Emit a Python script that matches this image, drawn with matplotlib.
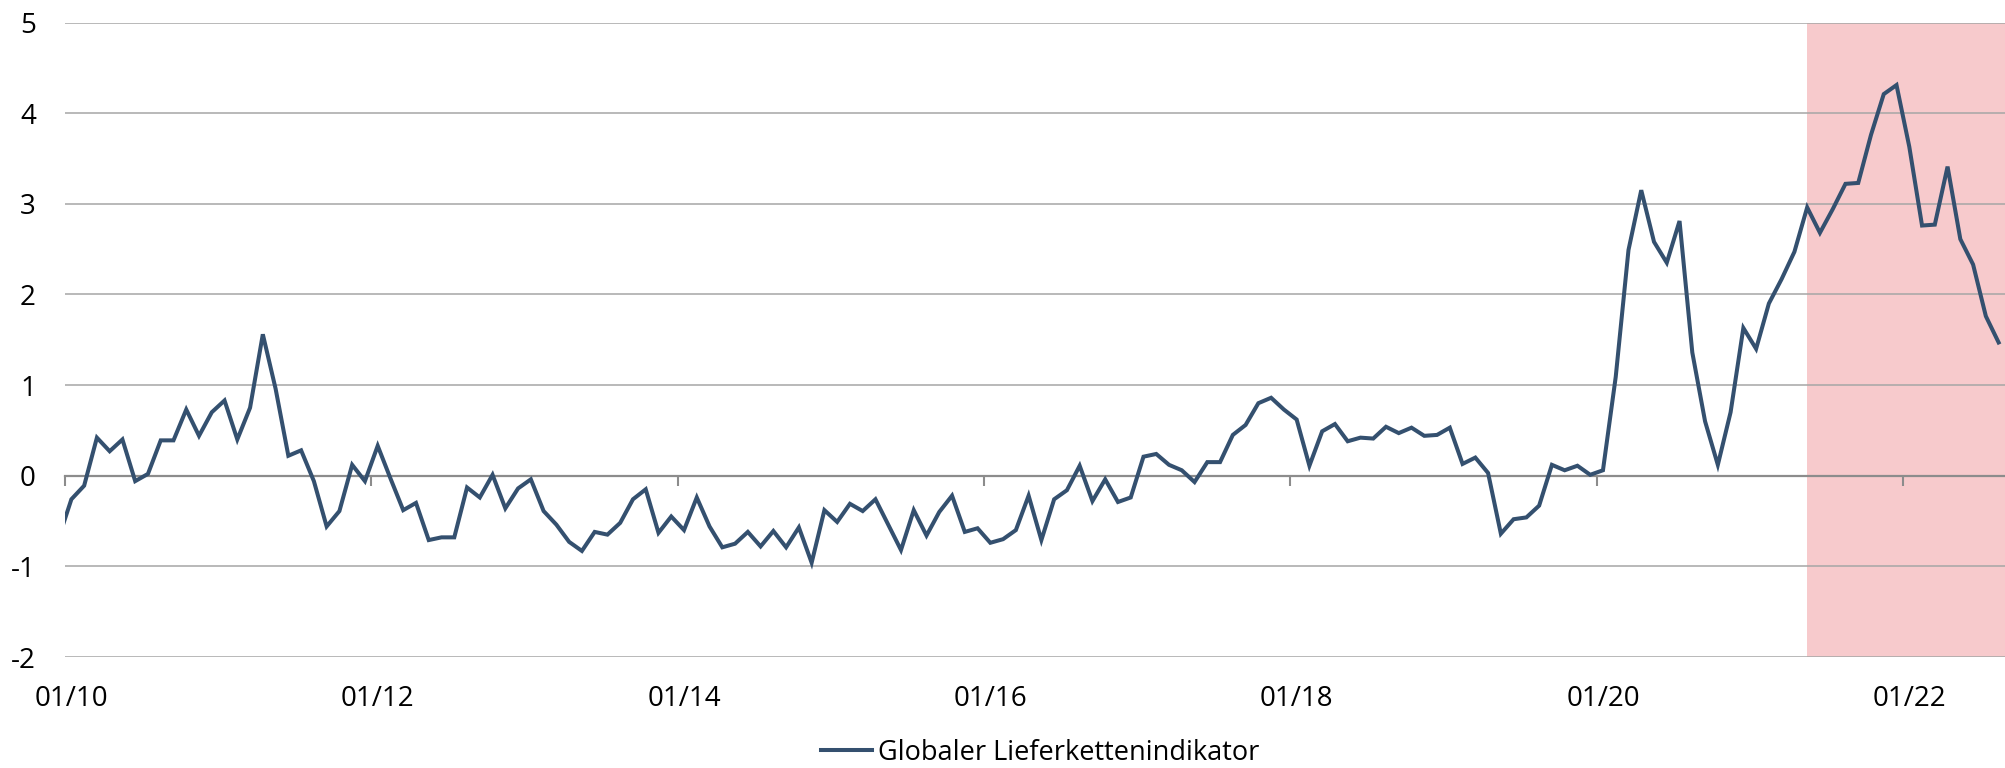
import numpy as np
import pandas as pd
import matplotlib
matplotlib.use('Agg')
import matplotlib.pyplot as plt
from matplotlib.lines import Line2D

# Globaler Lieferkettenindikator, Monatswerte 12/2009 - 08/2022
months = pd.period_range('2009-12', '2022-08', freq='M')
values = [
    -0.69,                                                                         # 2009-12
    -0.26, -0.11, 0.42, 0.27, 0.40, -0.06, 0.02, 0.39, 0.39, 0.73, 0.44, 0.70,     # 2010
    0.83, 0.40, 0.75, 1.56, 0.96, 0.22, 0.28, -0.06, -0.56, -0.39, 0.12, -0.06,    # 2011
    0.33, -0.03, -0.38, -0.30, -0.71, -0.68, -0.68, -0.13, -0.24, 0.01, -0.36, -0.14,  # 2012
    -0.04, -0.39, -0.54, -0.73, -0.83, -0.62, -0.65, -0.52, -0.26, -0.15, -0.63, -0.45,  # 2013
    -0.60, -0.24, -0.56, -0.79, -0.75, -0.62, -0.78, -0.61, -0.79, -0.57, -0.96, -0.38,  # 2014
    -0.51, -0.31, -0.39, -0.26, -0.54, -0.82, -0.38, -0.66, -0.40, -0.22, -0.62, -0.58,  # 2015
    -0.74, -0.70, -0.60, -0.22, -0.71, -0.26, -0.16, 0.11, -0.28, -0.04, -0.29, -0.24,   # 2016
    0.21, 0.24, 0.12, 0.06, -0.07, 0.15, 0.15, 0.45, 0.56, 0.80, 0.86, 0.73,       # 2017
    0.62, 0.11, 0.49, 0.57, 0.38, 0.42, 0.41, 0.54, 0.47, 0.53, 0.44, 0.45,        # 2018
    0.53, 0.13, 0.20, 0.03, -0.64, -0.48, -0.46, -0.33, 0.12, 0.06, 0.11, 0.01,    # 2019
    0.06, 1.09, 2.49, 3.15, 2.58, 2.35, 2.81, 1.36, 0.60, 0.12, 0.70, 1.63,        # 2020
    1.40, 1.90, 2.17, 2.47, 2.96, 2.68, 2.94, 3.22, 3.23, 3.76, 4.21, 4.31,        # 2021
    3.63, 2.76, 2.77, 3.41, 2.61, 2.33, 1.76, 1.47,                                # 2022
]
shade_from = pd.Period('2021-05', freq='M')
tick_years = [2010, 2012, 2014, 2016, 2018, 2020, 2022]
tick_labels = ['01/10', '01/12', '01/14', '01/16', '01/18', '01/20', '01/22']
y_ticks = [-2, -1, 0, 1, 2, 3, 4, 5]
series_name = 'Globaler Lieferkettenindikator'

line_color = '#34506F'
grid_color = '#A6A6A6'
axis_color = '#8C8C8C'
shade_color = '#F7CACC'

plt.rcParams['font.family'] = ['Open Sans', 'DejaVu Sans']
plt.rcParams['axes.unicode_minus'] = False   # "-1" mit Bindestrich wie im Original


def month_pos(p, center=True):
    # Monate seit 01/2010, Punkte in der Mitte der Kategorie (wie Excel)
    return (p.year - 2010) * 12 + (p.month - 1) + (0.5 if center else 0.0)


x = np.array([month_pos(p) for p in months])
y = np.array(values)

fig = plt.figure(figsize=(20.05, 7.68), dpi=100)
ax = fig.add_axes([65 / 2005, (768 - 657) / 768, 1 - 65 / 2005, (657 - 22.5) / 768])

ax.axvspan(month_pos(shade_from), month_pos(months[-1], center=False) + 1,
           color=shade_color, lw=0, zorder=0.2)
ax.plot(x, y, color=line_color, lw=2.9, zorder=3, solid_joinstyle='miter')

ax.set_xlim(0, month_pos(months[-1], center=False) + 1)
ax.set_ylim(-2, 5)

# Gitter
ax.set_yticks(y_ticks)
ax.yaxis.grid(True, color=grid_color, lw=1.1)
ax.set_axisbelow(True)
ax.tick_params(axis='y', length=0, pad=21, labelsize=20, colors='black')

for s in ['left', 'right', 'top']:
    ax.spines[s].set_visible(False)
ax.spines['bottom'].set_position(('data', 0))
ax.spines['bottom'].set_color(axis_color)
ax.spines['bottom'].set_linewidth(1.6)
ax.spines['bottom'].set_zorder(2)

# Striche auf der Nulllinie, Beschriftung unten
tick_pos = [(yr - 2010) * 12 for yr in tick_years]
ax.set_xticks(tick_pos)
ax.set_xticklabels([])
ax.tick_params(axis='x', direction='out', length=7, width=1.5, color=axis_color)

sec = ax.secondary_xaxis('bottom')
sec.set_xticks([p + 0.5 for p in tick_pos], tick_labels)
sec.tick_params(axis='x', length=0, pad=20, labelsize=20)
sec.spines['bottom'].set_visible(False)

handle = Line2D([], [], color=line_color, lw=2.9)
fig.legend([handle], [series_name], loc='center', bbox_to_anchor=(0.519, 0.02),
           frameon=False, fontsize=19.5, handlelength=1.85, handletextpad=0.25)

fig.savefig('out.png', dpi=100)
